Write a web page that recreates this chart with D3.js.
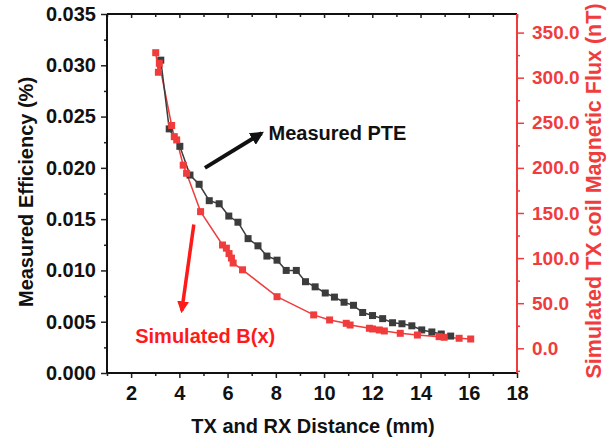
<!DOCTYPE html>
<html>
<head>
<meta charset="utf-8">
<script src="https://cdn.jsdelivr.net/npm/d3@7"></script>
<style>
  body { margin: 0; background: #fff; }
  text { font-family: "Liberation Sans", Arial, sans-serif; font-weight: bold; }
</style>
</head>
<body>
<svg id="chart"></svg>
<script>
// measured PTE (left axis)
let distPTE = [3.23, 3.58, 4.02, 4.44, 4.82, 5.24, 5.65, 6.05, 6.43, 6.85, 7.26, 7.63, 8.05, 8.43, 8.85, 9.23,
    9.63, 10.05, 10.43, 10.83, 11.22, 11.6, 12.01, 12.43, 12.84, 13.23, 13.64, 14.05, 14.47, 14.86, 15.25];
let pte = [0.0305, 0.0238, 0.0221, 0.0193, 0.0184, 0.0168, 0.0165, 0.0153, 0.0147, 0.0131, 0.0124, 0.0114,
    0.0110, 0.0100, 0.0100, 0.0089, 0.0084, 0.0078, 0.0074, 0.0069, 0.0066, 0.0059, 0.0056, 0.0053, 0.0049,
    0.0048, 0.0046, 0.0042, 0.0040, 0.0038, 0.0036];

// simulated B(x) (right axis, nT)
let distB = [3.02, 3.13, 3.17, 3.68, 3.79, 3.89, 4.16, 4.30, 4.88, 5.79, 5.95, 6.06, 6.16, 6.23, 6.62, 8.05,
    9.57, 10.23, 10.92, 11.08, 11.88, 12.01, 12.29, 12.5, 13.16, 13.87, 14.77, 14.98, 15.6, 16.08];
let fluxB = [327.7, 306, 316, 247, 234.6, 231, 203, 194, 151.5, 114.5, 111, 105, 100, 94.5, 87, 57.2,
    37, 31.4, 27.7, 25.8, 22.2, 21.4, 20.3, 19.2, 16.6, 14.7, 12.9, 12.2, 11.1, 10.3];

let xTicks = [2, 4, 6, 8, 10, 12, 14, 16, 18];
let leftTicks = [0, 0.005, 0.010, 0.015, 0.020, 0.025, 0.030, 0.035];
let rightTicks = [0, 50, 100, 150, 200, 250, 300, 350];

let width = 612;
let height = 439;
let plotLeft = 107, plotRight = 517, plotTop = 14, plotBottom = 373;

let black = "#3c3c3c";
let red = "#f03c3c";

let svg = d3.select("#chart").attr("width", width).attr("height", height);

let xScale = d3.scaleLinear().domain([1, 18]).range([plotLeft, plotRight]);
let yLeft = d3.scaleLinear().domain([0, 0.035]).range([plotBottom, plotTop]);
let yRight = d3.scaleLinear().domain([-27.4, 370.6]).range([plotBottom, plotTop]);

// minor ticks
let minorAxis = (axis, scale, vals) => axis(scale).tickValues(vals).tickSize(3).tickFormat("");

let g = svg.append("g");

g.append("g").attr("transform", `translate(0,${plotBottom})`)
    .call(minorAxis(d3.axisBottom, xScale, [1, 3, 5, 7, 9, 11, 13, 15, 17]));
g.append("g").attr("transform", `translate(0,${plotBottom})`)
    .call(d3.axisBottom(xScale).tickValues(xTicks).tickSize(5).tickPadding(8).tickFormat(d3.format("d")))
    .attr("id", "x-axis");

g.append("g").attr("transform", `translate(0,${plotTop})`)
    .call(minorAxis(d3.axisBottom, xScale, [1, 3, 5, 7, 9, 11, 13, 15, 17]));
g.append("g").attr("transform", `translate(0,${plotTop})`)
    .call(d3.axisBottom(xScale).tickValues(xTicks).tickSize(4).tickFormat(""));

g.append("g").attr("transform", `translate(${plotLeft},0)`)
    .call(minorAxis(d3.axisLeft, yLeft, d3.range(0.0025, 0.035, 0.005)));
g.append("g").attr("transform", `translate(${plotLeft},0)`)
    .call(d3.axisLeft(yLeft).tickValues(leftTicks).tickSize(6).tickPadding(5).tickFormat(d3.format(".3f")))
    .attr("id", "y-axis");

let rAxisMinor = g.append("g").attr("transform", `translate(${plotRight},0)`)
    .call(minorAxis(d3.axisRight, yRight, [-25, 25, 75, 125, 175, 225, 275, 325]));
let rAxis = g.append("g").attr("transform", `translate(${plotRight},0)`)
    .call(d3.axisRight(yRight).tickValues(rightTicks).tickSize(7).tickPadding(8).tickFormat(d3.format(".1f")));

g.selectAll(".domain").remove();
g.selectAll("line").attr("stroke", "#222").attr("stroke-width", 1.5);
g.selectAll(".tick text").attr("font-size", 20).attr("fill", "#111");

[rAxisMinor, rAxis].forEach(a => {
    a.selectAll("line").attr("stroke", red);
    a.selectAll("text").attr("fill", red);
});
rAxis.selectAll("text").attr("font-size", 19);

// frame
svg.append("line").attr("x1", plotLeft).attr("x2", plotRight).attr("y1", plotTop).attr("y2", plotTop)
    .attr("stroke", "#111").attr("stroke-width", 2);
svg.append("line").attr("x1", plotLeft).attr("x2", plotRight).attr("y1", plotBottom).attr("y2", plotBottom)
    .attr("stroke", "#111").attr("stroke-width", 2);
svg.append("line").attr("x1", plotLeft).attr("x2", plotLeft).attr("y1", plotTop).attr("y2", plotBottom)
    .attr("stroke", "#111").attr("stroke-width", 2);
svg.append("line").attr("x1", plotRight).attr("x2", plotRight).attr("y1", plotTop).attr("y2", plotBottom)
    .attr("stroke", red).attr("stroke-width", 2);

// series
let bData = distB.map((d, i) => [d, fluxB[i]]).sort((a, b) => a[0] - b[0]);
let pData = distPTE.map((d, i) => [d, pte[i]]);

svg.append("path").datum(bData)
    .attr("fill", "none").attr("stroke", red).attr("stroke-width", 1.5)
    .attr("d", d3.line().x(d => xScale(d[0])).y(d => yRight(d[1])));
svg.append("path").datum(pData)
    .attr("fill", "none").attr("stroke", black).attr("stroke-width", 1.5)
    .attr("d", d3.line().x(d => xScale(d[0])).y(d => yLeft(d[1])));

svg.selectAll(".pte").data(pData).enter().append("rect")
    .attr("class", "pte")
    .attr("x", d => xScale(d[0]) - 3.5).attr("y", d => yLeft(d[1]) - 3.5)
    .attr("width", 7).attr("height", 7).attr("fill", black);

svg.selectAll(".bx").data(bData).enter().append("rect")
    .attr("class", "bx")
    .attr("x", d => xScale(d[0]) - 3.5).attr("y", d => yRight(d[1]) - 3.5)
    .attr("width", 7).attr("height", 7).attr("fill", red);

// annotations
let defs = svg.append("defs");
[["headBlack", "#111"], ["headRed", "#ff1a1a"]].forEach(([id, c]) => {
    defs.append("marker").attr("id", id)
        .attr("viewBox", "0 0 10 10").attr("refX", 8).attr("refY", 5)
        .attr("markerWidth", 3.4).attr("markerHeight", 3.4).attr("orient", "auto")
        .append("path").attr("d", "M0,0L10,5L0,10Z").attr("fill", c);
});

svg.append("line")
    .attr("x1", xScale(5.06)).attr("y1", yLeft(0.0200))
    .attr("x2", xScale(7.41)).attr("y2", yLeft(0.02337))
    .attr("stroke", "#111").attr("stroke-width", 4).attr("marker-end", "url(#headBlack)");
svg.append("text").attr("x", xScale(7.7)).attr("y", yLeft(0.02268))
    .attr("font-size", 20).attr("fill", "#111").text("Measured PTE");

svg.append("line")
    .attr("x1", xScale(4.6)).attr("y1", yLeft(0.01447))
    .attr("x2", xScale(4.1)).attr("y2", yLeft(0.00606))
    .attr("stroke", "#ff1a1a").attr("stroke-width", 3.5).attr("marker-end", "url(#headRed)");
svg.append("text").attr("x", xScale(2.17)).attr("y", yLeft(0.00293))
    .attr("font-size", 20).attr("fill", "#ff1a1a").text("Simulated B(x)");

// axis titles
svg.append("text").attr("x", (plotLeft + plotRight) / 2 + 1).attr("y", 433)
    .attr("text-anchor", "middle").attr("font-size", 20).attr("fill", "#111")
    .text("TX and RX Distance (mm)");
svg.append("text").attr("transform", "translate(33,192) rotate(-90)")
    .attr("text-anchor", "middle").attr("font-size", 20).attr("fill", "#111")
    .text("Measured Efficiency (%)");
svg.append("text").attr("transform", "translate(601,191) rotate(-90)")
    .attr("text-anchor", "middle").attr("font-size", 21.5).attr("fill", red)
    .text("Simulated TX coil Magnetic Flux (nT)");
</script>
</body>
</html>
